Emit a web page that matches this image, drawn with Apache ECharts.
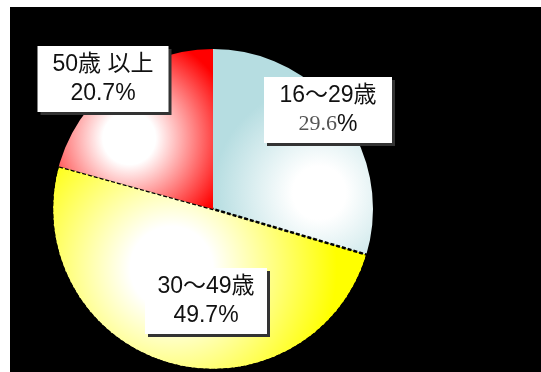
<!DOCTYPE html>
<html>
<head>
<meta charset="utf-8">
<script src="https://cdn.jsdelivr.net/npm/echarts@6/dist/echarts.min.js"></script>
<style>
html,body{margin:0;padding:0;background:#fff;}
#chart{position:absolute;left:10px;top:7px;width:531px;height:365px;}
</style>
</head>
<body>
<div id="chart"></div>
<script>
// data
var categories = ['16～29歳', '30～49歳', '50歳 以上'];
var values = [29.6, 49.7, 20.7];
var valueLabels = ['29.6', '49.7', '20.7'];

// styles (not data)
var edgeColors = ['#b6dde1', '#ffff00', '#ff0000'];
var gradCenters = [[0.66, 0.7, 0.66], [0.38, 0.5, 0.8], [0.46, 0.56, 0.68]];
var labelPos = [[318, 103], [196, 294], [93, 72]];
var labelWidths = [106, 100, 109];

var chart = echarts.init(document.getElementById('chart'), null, {renderer: 'canvas'});

var sliceData = categories.map(function (c, i) {
  var g = gradCenters[i];
  return {
    name: c,
    value: values[i],
    itemStyle: {
      color: {
        type: 'radial', x: g[0], y: g[1], r: g[2],
        colorStops: [
          {offset: 0, color: '#ffffff'},
          {offset: 0.25, color: '#ffffff'},
          {offset: 1, color: edgeColors[i]}
        ]
      },
      borderWidth: i === 1 ? 2.5 : 0,
      borderColor: '#000',
      borderType: [4, 2]
    }
  };
});

var labelData = categories.map(function (c, i) {
  var item = {
    name: c,
    value: values[i],
    itemStyle: {color: 'rgba(0,0,0,0)', borderWidth: 0},
    label: {width: labelWidths[i]}
  };
  if (i === 0) {
    item.label.rich = {
      v: {fontFamily: '"Liberation Serif", "Times New Roman", serif', fontSize: 22, color: '#555', lineHeight: 29}
    };
  }
  return item;
});

var sans = '"Liberation Sans", "Noto Sans CJK JP", sans-serif';
var center = [203, 202];

chart.setOption({
  backgroundColor: '#000',
  animation: false,
  series: [{
    type: 'pie',
    z: 2,
    center: center,
    radius: [0, 161],
    startAngle: 90,
    clockwise: true,
    silent: true,
    data: sliceData,
    label: {show: false},
    labelLine: {show: false}
  }, {
    // black ring hiding the dashed border along the outer arc
    type: 'pie',
    z: 3,
    center: center,
    radius: [160, 180],
    silent: true,
    label: {show: false},
    labelLine: {show: false},
    itemStyle: {color: '#000', borderWidth: 0},
    data: [{name: 'rim', value: 1}]
  }, {
    type: 'pie',
    z: 4,
    center: center,
    radius: [0, 161],
    startAngle: 90,
    clockwise: true,
    silent: true,
    data: labelData,
    label: {
      show: true,
      position: 'inside',
      align: 'center',
      verticalAlign: 'middle',
      formatter: function (p) {
        return '{n|' + p.name + '}\n{v|' + valueLabels[p.dataIndex] + '}{p|%}';
      },
      backgroundColor: '#fff',
      padding: [4, 11, 4, 11],
      shadowColor: '#333',
      shadowOffsetX: 3,
      shadowOffsetY: 3,
      shadowBlur: 0,
      rich: {
        n: {fontFamily: sans, fontSize: 23, color: '#111', lineHeight: 29, align: 'center'},
        v: {fontFamily: sans, fontSize: 23, color: '#111', lineHeight: 29},
        p: {fontFamily: sans, fontSize: 23, color: '#111', lineHeight: 29}
      }
    },
    labelLine: {show: false},
    labelLayout: function (params) {
      var pos = labelPos[params.dataIndex];
      return {x: pos[0], y: pos[1], align: 'center', verticalAlign: 'middle'};
    }
  }]
});
</script>
</body>
</html>
